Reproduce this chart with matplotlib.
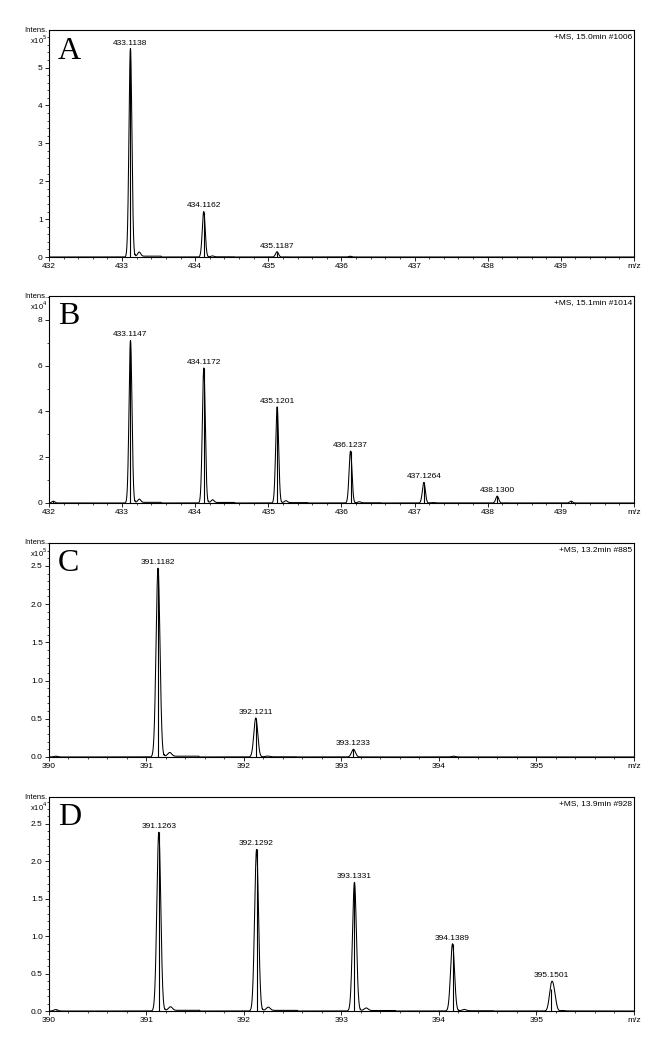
import numpy as np
import matplotlib.pyplot as plt
from matplotlib.ticker import MultipleLocator, FormatStrFormatter

plt.rcParams['font.family'] = ['Liberation Sans', 'DejaVu Sans']

# Panel A  (x10^5)
a_mz = [433.1138, 434.1162, 435.1187, 436.12]
a_int = [5.50, 1.20, 0.14, 0.02]
a_lab = ['433.1138', '434.1162', '435.1187', '']

# Panel B  (x10^4)
b_mz = [432.06, 433.1147, 434.1172, 435.1201, 436.1237, 437.1264, 438.1300, 439.14]
b_int = [0.08, 7.10, 5.90, 4.20, 2.27, 0.90, 0.30, 0.08]
b_lab = ['', '433.1147', '434.1172', '435.1201', '436.1237', '437.1264', '438.1300', '']

# Panel C  (x10^5)
c_mz = [390.07, 391.1182, 392.1211, 393.1233, 394.15]
c_int = [0.01, 2.47, 0.51, 0.10, 0.01]
c_lab = ['', '391.1182', '392.1211', '393.1233', '']

# Panel D  (x10^4)
d_mz = [390.07, 391.1263, 392.1292, 393.1331, 394.1389, 395.1501]
d_int = [0.02, 2.39, 2.16, 1.72, 0.90, 0.30]
d_lab = ['', '391.1263', '392.1292', '393.1331', '394.1389', '395.1501']
# unresolved shoulder next to 395.1501 (profile only, no centroid)
d_sh_mz = [395.18]
d_sh_int = [0.22]

panels = [
    dict(letter='A', mz=a_mz, inten=a_int, lab=a_lab, sh=([], []), exp='5',
         info='+MS, 15.0min #1006', xlim=(432, 440), ylim=(0, 5.99), major=1, minor=0.2,
         fmt='%d', rect=[0.0729, 0.755, 0.8705, 0.2164]),
    dict(letter='B', mz=b_mz, inten=b_int, lab=b_lab, sh=([], []), exp='4',
         info='+MS, 15.1min #1014', xlim=(432, 440), ylim=(0, 9.04), major=2, minor=1,
         fmt='%d', rect=[0.0729, 0.5205, 0.8705, 0.1973]),
    dict(letter='C', mz=c_mz, inten=c_int, lab=c_lab, sh=([], []), exp='5',
         info='+MS, 13.2min #885', xlim=(390, 396), ylim=(0, 2.80), major=0.5, minor=0.1,
         fmt='%.1f', rect=[0.0729, 0.2784, 0.8705, 0.2040]),
    dict(letter='D', mz=d_mz, inten=d_int, lab=d_lab, sh=(d_sh_mz, d_sh_int), exp='4',
         info='+MS, 13.9min #928', xlim=(390, 396), ylim=(0, 2.86), major=0.5, minor=0.1,
         fmt='%.1f', rect=[0.0729, 0.0362, 0.8705, 0.2040]),
]

SIGMA = 0.02
FS = 6


def profile(x, mz, inten, satellite=True):
    """Sum of gaussian peaks with a small satellite and a low tail."""
    y = np.zeros_like(x)
    for c, h in zip(mz, inten):
        y += h * np.exp(-(x - c) ** 2 / (2 * SIGMA ** 2))
        if satellite:
            y += 0.02 * h * np.exp(-(x - c - 0.12) ** 2 / (2 * 0.02 ** 2))
            tail = (x > c + 0.06) & (x < c + 0.42)
            y[tail] += 0.004 * h
    return y


fig = plt.figure(figsize=(6.72, 10.49), dpi=100)

for p in panels:
    ax = fig.add_axes(p['rect'])
    x = np.linspace(p['xlim'][0], p['xlim'][1], 6000)
    y = profile(x, p['mz'], p['inten']) + profile(x, *p['sh'], satellite=False)
    ax.plot(x, y, color='black', lw=0.75)
    ax.vlines(p['mz'], 0, p['inten'], color='black', lw=0.8)

    # labels sit just above the local top of the profile
    tops = [y[np.abs(x - c) < 0.05].max() for c in p['mz']]
    for c, h, t in zip(p['mz'], tops, p['lab']):
        if t:
            ax.annotate(t, (c, h), xytext=(0, 1.5), textcoords='offset points',
                        ha='center', va='bottom', fontsize=FS)

    ax.set_xlim(*p['xlim'])
    ax.set_ylim(*p['ylim'])
    ax.xaxis.set_minor_locator(MultipleLocator(0.2))
    ax.yaxis.set_major_locator(MultipleLocator(p['major']))
    ax.yaxis.set_minor_locator(MultipleLocator(p['minor']))
    ax.yaxis.set_major_formatter(FormatStrFormatter(p['fmt']))
    ax.tick_params(which='major', direction='out', length=3, width=0.6,
                   labelsize=FS, pad=1.5)
    ax.tick_params(which='minor', direction='out', length=1.5, width=0.5)
    for s in ax.spines.values():
        s.set_linewidth(0.8)

    # last x tick carries the m/z label
    xt = np.arange(p['xlim'][0], p['xlim'][1] + 0.5, 1)
    ax.set_xticks(xt)
    ax.set_xticklabels([f'{v:.0f}' for v in xt[:-1]] + ['m/z'])

    ax.text(0.015, 0.97, p['letter'], transform=ax.transAxes, ha='left', va='top',
            fontsize=23, family='Liberation Serif')
    ax.text(0.997, 0.985, p['info'], transform=ax.transAxes, ha='right', va='top',
            fontsize=FS)
    ax.annotate('Intens.', (0, 1), xycoords='axes fraction', xytext=(-1, 0),
                textcoords='offset points', ha='right', va='center', fontsize=FS - 0.5)
    ax.annotate('x10$^{' + p['exp'] + '}$', (0, 1), xycoords='axes fraction',
                xytext=(-1, -7), textcoords='offset points', ha='right', va='center',
                fontsize=FS - 0.5)

fig.savefig('out.png', dpi=100)
